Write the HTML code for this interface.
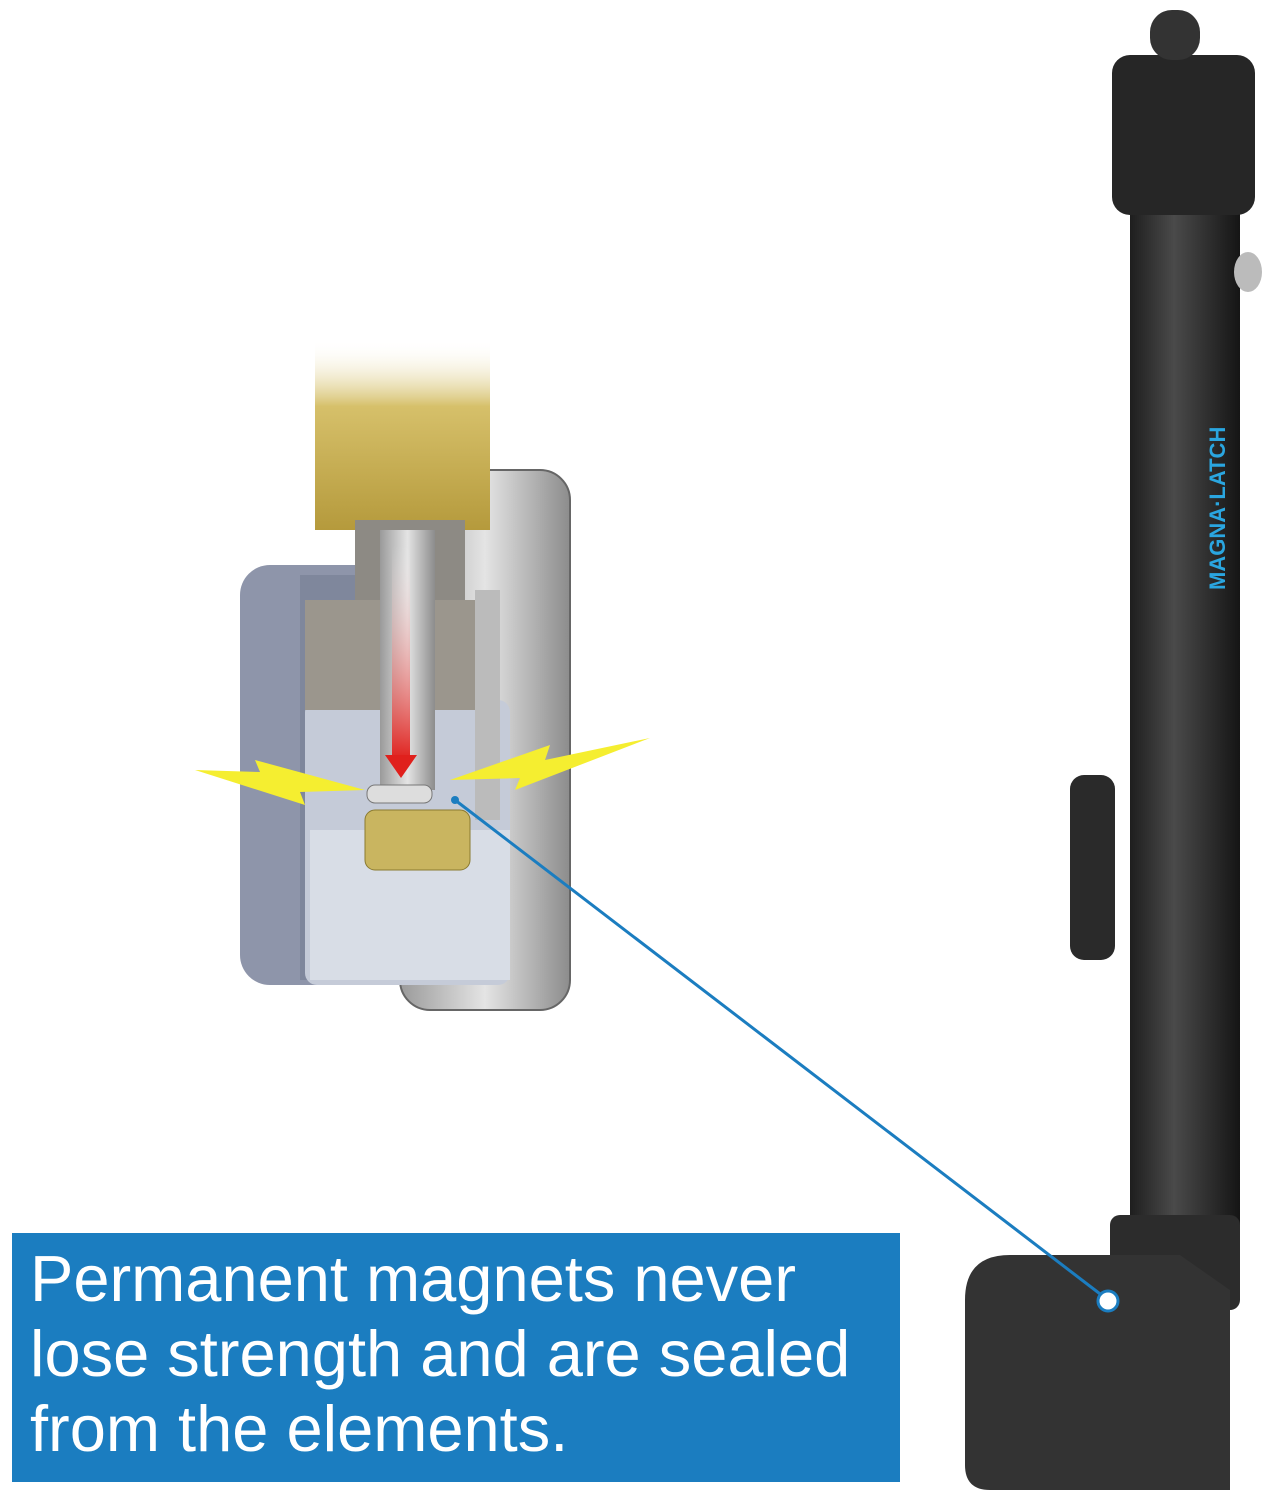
<!DOCTYPE html>
<html><head><meta charset="utf-8"><style>
html,body{margin:0;padding:0;background:#fff;}
body{width:1278px;height:1500px;position:relative;overflow:hidden;font-family:"Liberation Sans",sans-serif;}
.box{position:absolute;left:12px;top:1233px;width:888px;height:249px;background:#1b7dc0;}
.box div{position:absolute;left:18px;color:#fff;font-size:65px;line-height:75px;white-space:nowrap;}
svg{position:absolute;left:0;top:0;}
</style></head><body>
<svg width="1278" height="1500" viewBox="0 0 1278 1500">
<defs>
<linearGradient id="yel" x1="0" y1="0" x2="0" y2="1"><stop offset="0" stop-color="#fff" stop-opacity="0"/><stop offset="0.35" stop-color="#d6c06a"/><stop offset="1" stop-color="#b59a3c"/></linearGradient>
<linearGradient id="tube" x1="0" y1="0" x2="1" y2="0"><stop offset="0" stop-color="#1e1e1e"/><stop offset="0.4" stop-color="#4a4a4a"/><stop offset="1" stop-color="#151515"/></linearGradient>
<linearGradient id="red" x1="0" y1="0" x2="0" y2="1"><stop offset="0" stop-color="#fff" stop-opacity="0"/><stop offset="1" stop-color="#e0201c"/></linearGradient>
<linearGradient id="silver" x1="0" y1="0" x2="1" y2="0"><stop offset="0" stop-color="#9a9a9a"/><stop offset="0.5" stop-color="#e4e4e4"/><stop offset="1" stop-color="#8c8c8c"/></linearGradient>
</defs>
<rect x="400" y="470" width="170" height="540" rx="30" fill="url(#silver)" stroke="#666" stroke-width="2"/>
<rect x="240" y="565" width="200" height="420" rx="30" fill="#8e95aa"/>
<rect x="300" y="575" width="140" height="405" fill="#7f879c"/>
<rect x="305" y="700" width="205" height="285" rx="12" fill="#c5cbd8"/>
<rect x="310" y="830" width="200" height="150" fill="#d8dde6"/>
<rect x="315" y="340" width="175" height="190" fill="url(#yel)"/>
<rect x="355" y="520" width="110" height="170" fill="#8d8a84"/>
<rect x="305" y="600" width="170" height="110" fill="#9b968d"/>
<rect x="380" y="530" width="55" height="260" fill="url(#silver)"/>
<rect x="392" y="545" width="18" height="215" fill="url(#red)"/>
<polygon points="385,755 417,755 401,778" fill="#e0201c"/>
<rect x="367" y="785" width="65" height="18" rx="8" fill="#ddd" stroke="#777"/>
<rect x="365" y="810" width="105" height="60" rx="10" fill="#c9b560" stroke="#8a7a30"/>
<rect x="475" y="590" width="25" height="230" fill="#bbb"/>
<polygon points="195,770 260,772 255,760 365,790 300,792 305,805" fill="#f5ee30"/>
<polygon points="650,738 545,760 550,745 450,780 520,778 515,790" fill="#f5ee30"/>
<rect x="1130" y="200" width="110" height="1030" fill="url(#tube)"/>
<rect x="1070" y="775" width="45" height="185" rx="14" fill="#2a2a2a"/>
<rect x="1112" y="55" width="143" height="160" rx="18" fill="#262626"/>
<rect x="1150" y="10" width="50" height="50" rx="22" fill="#333"/>
<ellipse cx="1248" cy="272" rx="14" ry="20" fill="#bbb"/>
<rect x="1110" y="1215" width="130" height="95" rx="10" fill="#2c2c2c"/>
<path d="M965 1300 Q965 1255 1010 1255 L1180 1255 L1230 1290 L1230 1490 L990 1490 Q965 1490 965 1465 Z" fill="#333"/>
<text x="1225" y="590" transform="rotate(-90 1225 590)" font-family="Liberation Sans" font-weight="bold" font-size="22" fill="#2aa6e0">MAGNA·LATCH</text>
<line x1="455" y1="800" x2="1108" y2="1300" stroke="#1b7dc0" stroke-width="3"/>
<circle cx="455" cy="800" r="4" fill="#1b7dc0"/>
<circle cx="1108" cy="1301" r="10" fill="#fff" stroke="#1b7dc0" stroke-width="3"/>
</svg>
<div class="box">
<div style="top:8px">Permanent magnets never</div>
<div style="top:83px">lose strength and are sealed</div>
<div style="top:158px">from the elements.</div>
</div>
</body></html>
